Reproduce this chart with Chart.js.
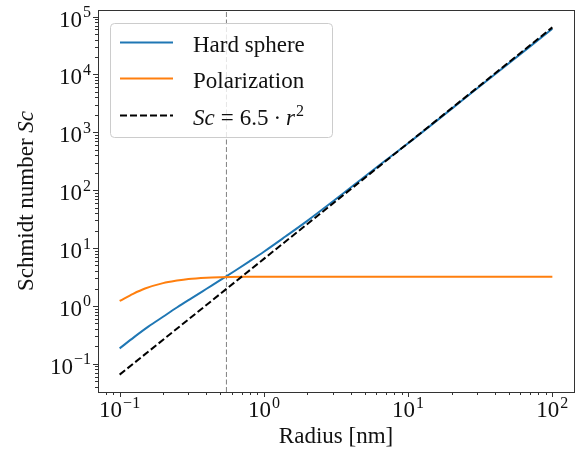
<!DOCTYPE html>
<html>
<head>
<meta charset="utf-8">
<script src="https://cdn.jsdelivr.net/npm/chart.js@4.4.1/dist/chart.umd.min.js"></script>
<style>
  html, body { margin: 0; padding: 0; background: #fff; }
</style>
</head>
<body>
<canvas id="schmidt" width="579" height="456"></canvas>
<script>
// Schmidt number vs. particle radius (log-log)
const hsRadius = [0.1, 0.126, 0.158, 0.2, 0.251, 0.316, 0.398, 0.501, 0.631, 0.794, 1, 1.41, 2, 2.82, 3.98, 6.31, 10, 31.6, 100];
const hsSchmidt = [0.185, 0.289, 0.438, 0.65, 0.948, 1.365, 1.96, 2.81, 4.05, 5.89, 8.65, 15.8, 29.5, 56.4, 110, 269, 645, 6310, 61600];

const polRadius = [0.1, 0.124, 0.15, 0.2, 0.25, 0.3, 0.4, 0.5, 0.7, 1, 2, 10, 100];
const polSchmidt = [1.22, 1.62, 2.0, 2.48, 2.75, 2.93, 3.08, 3.14, 3.19, 3.2, 3.2, 3.2, 3.2];

// Sc = 6.5 * r^2
const fitRadius = [0.1, 1, 10, 100];
const fitSchmidt = [0.065, 6.5, 650, 65000];

const cutoffRadius = 0.55;

const xExponents = [-1, 0, 1, 2];
const yExponents = [-1, 0, 1, 2, 3, 4, 5];

const xMin = Math.pow(10, -1.15), xMax = Math.pow(10, 2.15);
const yMin = Math.pow(10, -1.487), yMax = Math.pow(10, 5.113);

const FONT = '"Liberation Serif", "DejaVu Serif", serif';
const BLUE = '#1f77b4', ORANGE = '#ff7f0e';

const pts = (xs, ys) => xs.map((x, i) => ({ x: x, y: ys[i] }));

// "10" with a raised exponent
function drawPower(ctx, exp, x, y, align) {
  const base = '10';
  const sup = exp < 0 ? '\u2212' + (-exp) : String(exp);
  ctx.font = '23px ' + FONT;
  const wb = ctx.measureText(base).width;
  ctx.font = '16px ' + FONT;
  const ws = ctx.measureText(sup).width;
  const w = wb + 1 + ws;
  const x0 = align === 'center' ? x - w / 2 : x - w;
  ctx.textAlign = 'left';
  ctx.textBaseline = 'alphabetic';
  ctx.font = '23px ' + FONT;
  ctx.fillText(base, x0, y);
  ctx.font = '16px ' + FONT;
  ctx.fillText(sup, x0 + wb + 1, y - 9.5);
}

function logTicks(lo, hi) {
  const out = [];
  for (let k = Math.floor(Math.log10(lo)); k <= Math.ceil(Math.log10(hi)); k++) {
    for (let m = 1; m <= 9; m++) {
      const v = m * Math.pow(10, k);
      if (v >= lo && v <= hi) out.push({ v: v, major: m === 1 });
    }
  }
  return out;
}

const axesPlugin = {
  id: 'axesDecor',
  afterDraw(chart) {
    const ctx = chart.ctx;
    const a = chart.chartArea;
    const xs = chart.scales.x, ys = chart.scales.y;
    ctx.save();

    // frame
    ctx.strokeStyle = '#333';
    ctx.lineWidth = 1;
    ctx.strokeRect(Math.round(a.left) + 0.5, Math.round(a.top) + 0.5,
      Math.round(a.right - a.left), Math.round(a.bottom - a.top));

    // tick marks
    ctx.beginPath();
    logTicks(xMin, xMax).forEach(t => {
      const px = Math.round(xs.getPixelForValue(t.v)) + 0.5;
      ctx.moveTo(px, a.bottom);
      ctx.lineTo(px, a.bottom + (t.major ? 5 : 3));
    });
    logTicks(yMin, yMax).forEach(t => {
      const py = Math.round(ys.getPixelForValue(t.v)) + 0.5;
      ctx.moveTo(a.left, py);
      ctx.lineTo(a.left - (t.major ? 5 : 3), py);
    });
    ctx.stroke();

    // tick labels
    ctx.fillStyle = '#111';
    xExponents.forEach(e => {
      drawPower(ctx, e, xs.getPixelForValue(Math.pow(10, e)), 417, 'center');
    });
    yExponents.forEach(e => {
      drawPower(ctx, e, 91, ys.getPixelForValue(Math.pow(10, e)) + 10, 'right');
    });

    // axis titles
    ctx.font = '23px ' + FONT;
    ctx.textAlign = 'center';
    ctx.fillText('Radius [nm]', (a.left + a.right) / 2, 443);

    ctx.save();
    ctx.translate(33, (a.top + a.bottom) / 2);
    ctx.rotate(-Math.PI / 2);
    const plain = 'Schmidt number ';
    ctx.font = '23px ' + FONT;
    const wp = ctx.measureText(plain).width;
    ctx.font = 'italic 23px ' + FONT;
    const wi = ctx.measureText('Sc').width;
    ctx.textAlign = 'left';
    ctx.font = '23px ' + FONT;
    ctx.fillText(plain, -(wp + wi) / 2, 0);
    ctx.font = 'italic 23px ' + FONT;
    ctx.fillText('Sc', -(wp + wi) / 2 + wp, 0);
    ctx.restore();

    // legend
    const lx = 110.5, ly = 23.5, lw = 222, lh = 114;
    ctx.beginPath();
    ctx.roundRect(lx, ly, lw, lh, 4);
    ctx.fillStyle = 'rgba(255,255,255,0.8)';
    ctx.fill();
    ctx.strokeStyle = '#cccccc';
    ctx.lineWidth = 1;
    ctx.stroke();

    const rows = [
      { color: BLUE, dash: [], y: 42.5 },
      { color: ORANGE, dash: [], y: 78.5 },
      { color: '#000', dash: [7, 3], y: 115.5 }
    ];
    rows.forEach(r => {
      ctx.beginPath();
      ctx.setLineDash(r.dash);
      ctx.strokeStyle = r.color;
      ctx.lineWidth = 2;
      ctx.moveTo(120, r.y);
      ctx.lineTo(173, r.y);
      ctx.stroke();
    });
    ctx.setLineDash([]);

    ctx.fillStyle = '#111';
    ctx.textAlign = 'left';
    ctx.font = '23px ' + FONT;
    ctx.fillText('Hard sphere', 193, rows[0].y + 9.5);
    ctx.fillText('Polarization', 193, rows[1].y + 9.5);

    // Sc = 6.5 · r²
    let tx = 193;
    const by = rows[2].y + 9.5;
    const piece = (txt, font, gap, dy) => {
      ctx.font = font;
      ctx.fillText(txt, tx, by - (dy || 0));
      tx += ctx.measureText(txt).width + gap;
    };
    piece('Sc', 'italic 23px ' + FONT, 6);
    piece('=', '23px ' + FONT, 6);
    piece('6.5', '23px ' + FONT, 5);
    piece('\u00b7', '23px ' + FONT, 5);
    piece('r', 'italic 23px ' + FONT, 1);
    piece('2', '16px ' + FONT, 0, 9.5);

    ctx.restore();
  }
};

new Chart(document.getElementById('schmidt').getContext('2d'), {
  type: 'line',
  data: {
    datasets: [
      {
        label: 'Sc = 6.5 r^2',
        data: pts(fitRadius, fitSchmidt),
        borderColor: '#000',
        borderWidth: 2,
        borderDash: [7, 3],
        pointRadius: 0,
        order: 1
      },
      {
        label: 'Polarization',
        data: pts(polRadius, polSchmidt),
        borderColor: ORANGE,
        borderWidth: 2,
        pointRadius: 0,
        cubicInterpolationMode: 'monotone',
        order: 2
      },
      {
        label: 'Hard sphere',
        data: pts(hsRadius, hsSchmidt),
        borderColor: BLUE,
        borderWidth: 2,
        pointRadius: 0,
        cubicInterpolationMode: 'monotone',
        order: 3
      },
      {
        label: 'cutoff',
        data: [{ x: cutoffRadius, y: yMin }, { x: cutoffRadius, y: yMax }],
        borderColor: '#808080',
        borderWidth: 1,
        borderDash: [5, 2.5],
        pointRadius: 0,
        order: 4
      }
    ]
  },
  options: {
    responsive: false,
    animation: false,
    devicePixelRatio: 1,
    layout: { padding: { left: 98, right: 5, top: 10, bottom: 64 } },
    plugins: {
      legend: { display: false },
      tooltip: { enabled: false }
    },
    scales: {
      x: { type: 'logarithmic', min: xMin, max: xMax, display: false },
      y: { type: 'logarithmic', min: yMin, max: yMax, display: false }
    }
  },
  plugins: [axesPlugin]
});
</script>
</body>
</html>
